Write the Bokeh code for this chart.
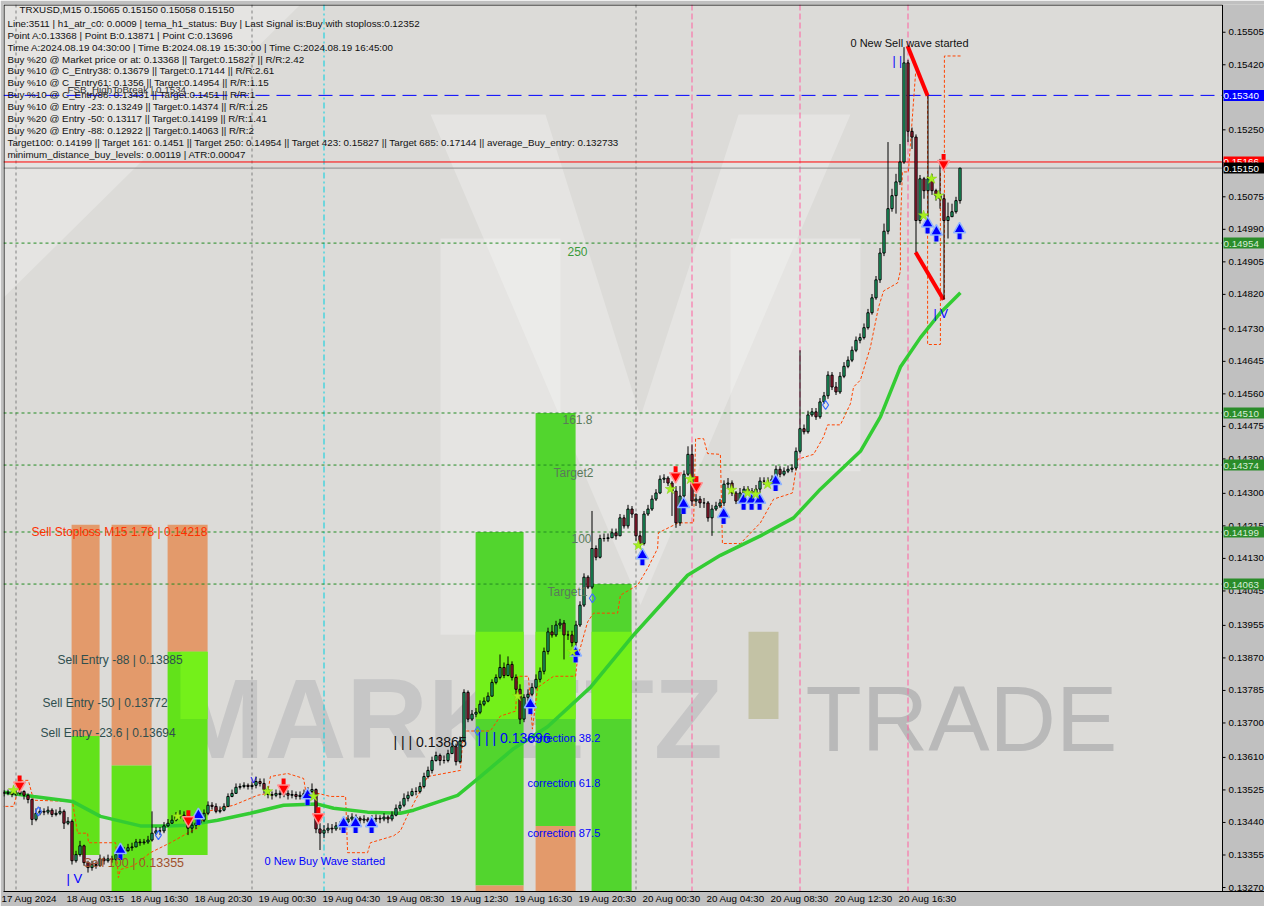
from bokeh.plotting import figure
from bokeh.models import Range1d, FixedTicker, Span, Label
from bokeh.embed import file_html
from bokeh.resources import INLINE

PT = 1e-5  # price units of the arrays below

# ---------------- candles (M15 bars, prices in 1e-5) ----------------
first_open_pts = 13519
close_pts = [
 13516,13519,13513,13516,13521,13511,13500,13448,13464,13469,
 13467,13472,13461,13464,13469,13438,13443,13340,13356,13379,
 13335,13322,13330,13327,13345,13340,13345,13343,13356,13361,
 13366,13374,13376,13389,13387,13389,13394,13412,13418,13418,
 13431,13438,13446,13456,13459,13454,13425,13433,13438,13446,
 13464,13485,13482,13469,13472,13482,13508,13516,13532,13534,
 13537,13534,13537,13547,13542,13526,13513,13511,13516,13513,
 13516,13511,13513,13508,13511,13516,13521,13526,13423,13412,
 13420,13425,13423,13431,13433,13441,13449,13454,13451,13446,
 13449,13443,13449,13451,13449,13454,13449,13459,13477,13485,
 13503,13511,13521,13521,13534,13560,13576,13602,13615,13602,
 13602,13620,13638,13599,13653,13780,13710,13723,13728,13749,
 13757,13770,13806,13819,13845,13824,13853,13819,13788,13710,
 13767,13775,13793,13814,13835,13887,13938,13930,13956,13961,
 13930,13930,13910,13956,14008,14081,14055,14156,14133,14182,
 14182,14184,14197,14189,14236,14215,14259,14246,14189,14169,
 14246,14259,14285,14301,14337,14340,14327,14306,14223,14293,
 14350,14402,14280,14285,14275,14275,14236,14259,14267,14275,
 14324,14327,14301,14280,14301,14311,14306,14301,14311,14332,
 14332,14332,14337,14363,14350,14358,14363,14366,14410,14469,
 14461,14505,14513,14500,14539,14555,14609,14578,14565,14606,
 14632,14648,14674,14700,14707,14733,14772,14811,14858,14928,
 14985,15044,15078,15114,15166,15425,15246,15231,15013,15122,
 15091,15122,15091,15078,15070,15013,15023,15036,15065,15150]
high_pts = [
 13524,13526,13521,13524,13529,13524,13516,13503,13477,13480,
 13477,13482,13477,13474,13480,13474,13454,13448,13366,13392,
 13382,13340,13340,13338,13356,13351,13356,13353,13366,13371,
 13376,13384,13387,13397,13397,13397,13405,13469,13428,13428,
 13441,13449,13459,13467,13472,13469,13459,13443,13449,13459,
 13474,13495,13493,13490,13482,13490,13516,13526,13542,13542,
 13545,13542,13547,13560,13555,13555,13534,13521,13526,13524,
 13526,13524,13524,13521,13521,13526,13532,13542,13529,13438,
 13433,13438,13436,13441,13443,13451,13459,13464,13461,13456,
 13459,13454,13459,13461,13459,13464,13459,13469,13487,13495,
 13516,13521,13529,13532,13545,13570,13586,13612,13625,13620,
 13615,13630,13648,13646,13664,13788,13785,13734,13739,13759,
 13767,13780,13814,13827,13879,13858,13874,13861,13827,13801,
 13775,13788,13804,13827,13845,13897,13949,13956,13967,13972,
 13969,13941,13941,13967,14018,14091,14086,14254,14164,14192,
 14195,14195,14208,14208,14246,14244,14270,14267,14246,14202,
 14254,14270,14295,14311,14347,14350,14345,14332,14319,14319,
 14360,14423,14428,14298,14293,14288,14280,14270,14278,14285,
 14334,14340,14334,14306,14314,14319,14319,14314,14322,14342,
 14342,14342,14347,14373,14371,14368,14373,14376,14420,14674,
 14480,14516,14523,14523,14549,14565,14619,14617,14591,14617,
 14643,14658,14684,14710,14718,14744,14782,14821,14868,14941,
 15005,15218,15096,15135,15213,15466,15433,15256,15238,15132,
 15127,15339,15135,15096,15174,15083,15060,15057,15075,15150]
low_pts = [
 13508,13511,13506,13508,13511,13500,13490,13433,13443,13459,
 13459,13461,13454,13456,13459,13423,13433,13330,13335,13351,
 13327,13309,13314,13319,13325,13330,13335,13335,13340,13351,
 13356,13364,13366,13379,13379,13382,13384,13390,13407,13407,
 13412,13428,13436,13443,13449,13443,13407,13412,13423,13438,
 13441,13459,13474,13464,13464,13469,13480,13506,13516,13526,
 13529,13526,13526,13529,13534,13516,13503,13500,13506,13503,
 13506,13500,13503,13500,13500,13503,13508,13516,13412,13368,
 13399,13412,13412,13418,13420,13431,13438,13443,13441,13436,
 13438,13433,13438,13441,13438,13443,13438,13443,13456,13469,
 13480,13495,13508,13511,13516,13529,13555,13568,13599,13589,
 13594,13597,13620,13589,13594,13651,13702,13705,13715,13723,
 13744,13754,13770,13801,13814,13817,13822,13811,13775,13697,
 13702,13749,13770,13788,13806,13827,13879,13923,13925,13946,
 13866,13917,13899,13899,13951,14003,14050,14050,14125,14130,
 14174,14174,14184,14179,14189,14208,14208,14236,14176,14158,
 14164,14241,14254,14280,14298,14327,14319,14241,14210,14215,
 14288,14345,14267,14267,14262,14262,14226,14189,14254,14262,
 14267,14314,14293,14272,14278,14301,14298,14288,14293,14301,
 14322,14322,14327,14337,14342,14345,14353,14355,14360,14404,
 14454,14456,14500,14492,14495,14534,14547,14570,14557,14560,
 14601,14627,14643,14669,14692,14702,14728,14767,14806,14850,
 14920,14977,15036,15031,15106,15161,15218,15200,14930,15005,
 15070,15005,15080,15065,15044,14806,14966,15023,15031,15057]

# ---------------- indicator lines ----------------
ma_bar = [0, 7.4, 17.1, 24.1, 34.1, 40.9, 45.9, 53.4, 61.6, 69.9, 78.4, 82.4, 90.9, 99.1, 102.4,
          113.4, 119.1, 127.4, 135.9, 146.6, 157.4, 170.9, 179.1, 189.1, 197.4, 204.1, 214.1,
          219.1, 224.1, 229.1, 234.1, 239.1]
ma_pts = [13519, 13508, 13495, 13456, 13431, 13431, 13433, 13446, 13464, 13485, 13488, 13477, 13467,
          13464, 13472, 13511, 13560, 13633, 13690, 13793, 13930, 14086, 14138, 14189, 14236, 14311,
          14410, 14500, 14630, 14707, 14772, 14824]

stop_a_bar = [-0.9, 2.4, 4.1, 6.1, 7.4, 17.1, 18.4, 20.9, 21.1, 27.9, 28.6, 29.1, 32.4, 36.6, 41.6,
              45.9, 48.4, 50.9, 57.4, 63.4, 65.9, 66.6, 70.9, 74.9, 75.4, 81.6, 85.4, 85.9, 90.9, 91.6,
              97.4, 99.1, 100.9, 105.9, 114.1, 114.9, 121.6, 124.1, 127.9, 128.4, 131.1, 132.1, 133.4,
              137.4, 142.9, 143.4, 145.9, 147.4, 153.4, 154.1, 158.4, 160.9, 163.4, 163.6, 168.6, 172.4,
              172.9, 174.9, 175.9, 179.1, 179.6, 184.1, 189.1, 192.4, 197.1, 198.4, 202.4, 204.9, 205.9,
              209.1, 211.6, 212.4, 214.1, 216.6, 218.6, 219.9, 223.4, 224.1, 224.1, 224.6, 226.1, 227.9,
              229.1]
stop_a_pts = [13482, 13482, 13550, 13550, 13498, 13495, 13412, 13412, 13387, 13387, 13296, 13317, 13327,
              13361, 13387, 13412, 13425, 13469, 13485, 13511, 13516, 13560, 13568, 13555, 13524, 13508,
              13508, 13361, 13361, 13387, 13405, 13418, 13459, 13560, 13576, 13679, 13679, 13718, 13731,
              13822, 13822, 13684, 13793, 13822, 13822, 13871, 13964, 13987, 13987, 14034, 14060, 14104,
              14156, 14197, 14223, 14223, 14443, 14443, 14404, 14402, 14169, 14169, 14223, 14285, 14301,
              14389, 14402, 14448, 14479, 14479, 14534, 14578, 14596, 14682, 14785, 14829, 14850, 14881,
              15000, 15140, 15140, 15399, 15399]
stop_b_bar = [230.9, 230.9, 234.1, 234.1]
stop_b_pts = [15339, 14689, 14689, 15140]
stop_c_bar = [235.1, 235.1, 239.6]
stop_c_pts = [14811, 15443, 15443]

wave_bar = [[225.9, 230.9], [227.9, 234.9]]
wave_pts = [[15469, 15339], [14930, 14806]]

# ---------------- levels ----------------
level_prices = [0.14954, 0.14510, 0.14374, 0.14199, 0.14063]
fsb_price = 0.15340
red_price = 0.15166
last_price = 0.15150

# ---------------- zones ----------------
zone_kind = ["sell", "sell", "sell", "buy", "buy", "buy"]
zone_left = [16.9, 26.9, 40.9, 117.9, 132.9, 146.9]
zone_right = [23.9, 36.9, 50.9, 129.9, 142.9, 156.9]
zone_top = [0.14218, 0.14218, 0.14218, 0.14199, 0.14510, 0.14063]
zone_split = [0.13666, 0.13589, 0.13886, 0.13275, 0.13431, 0.13200]
zone_bottom = [0.13355, 0.13200, 0.13355, 0.13200, 0.13200, 0.13200]

# ---------------- signals ----------------
buy_arrow_bar = [29.1, 48.6, 75.9, 84.9, 87.9, 91.9, 131.6, 142.9, 159.6, 169.9, 179.9, 184.9,
                 186.9, 188.9, 192.9, 230.9, 233.1, 238.9]
buy_arrow_pts = [13381, 13472, 13524, 13451, 13451, 13451, 13762, 13897, 14151, 14285, 14259, 14296,
                 14296, 14296, 14345, 15018, 14997, 15003]
sell_arrow_bar = [3.9, 46.1, 69.9, 78.6, 167.9, 173.1, 234.9]
sell_arrow_pts = [13524, 13433, 13516, 13441, 14332, 14306, 15148]
star_bar = [2.4, 43.4, 65.9, 77.4, 128.4, 142.1, 158.6, 166.6, 171.6, 181.9, 185.9, 187.9, 190.9,
            229.9, 231.9, 233.6]
star_pts = [13524, 13456, 13521, 13508, 13770, 13886, 14164, 14311, 14337, 14309, 14301, 14298, 14324,
            15026, 15122, 15078]
hollow_bar = [8.6, 38.6, 118.4, 147.1, 205.4]
hollow_pts = [13469, 13407, 13679, 14026, 14531]

# ---------------- axes ----------------
time_tick_bars = [0, 16, 32, 48, 64, 80, 96, 112, 128, 144, 160, 176, 192, 208, 224]
time_tick_labels = ["17 Aug 2024", "18 Aug 03:15", "18 Aug 16:30", "18 Aug 20:30", "19 Aug 00:30",
                    "19 Aug 04:30", "19 Aug 08:30", "19 Aug 12:30", "19 Aug 16:30", "19 Aug 20:30",
                    "20 Aug 00:30", "20 Aug 04:30", "20 Aug 08:30", "20 Aug 12:30", "20 Aug 16:30"]
price_ticks = [0.15505, 0.15420, 0.15335, 0.15250, 0.15165, 0.15075, 0.14990, 0.14905, 0.14820,
               0.14730, 0.14645, 0.14560, 0.14475, 0.14390, 0.14300, 0.14215, 0.14130, 0.14045,
               0.13955, 0.13870, 0.13785, 0.13700, 0.13610, 0.13525, 0.13440, 0.13355, 0.13270]
day_sep_bars = [3, 62, 158]
cyan_bars = [80]
pink_bars = [172, 199, 226]

info_lines = [
    "Line:3511 | h1_atr_c0: 0.0009 | tema_h1_status: Buy | Last Signal is:Buy with stoploss:0.12352",
    "Point A:0.13368 | Point B:0.13871 | Point C:0.13696",
    "Time A:2024.08.19 04:30:00 | Time B:2024.08.19 15:30:00 | Time C:2024.08.19 16:45:00",
    "Buy %20 @ Market price or at: 0.13368 || Target:0.15827 || R/R:2.42",
    "Buy %10 @ C_Entry38: 0.13679 || Target:0.17144 || R/R:2.61",
    "Buy %10 @ C_Entry61: 0.1356 || Target:0.14954 || R/R:1.15",
    "Buy %10 @ C_Entry88: 0.13431 || Target:0.1451 || R/R:1",
    "Buy %10 @ Entry -23: 0.13249 || Target:0.14374 || R/R:1.25",
    "Buy %20 @ Entry -50: 0.13117 || Target:0.14199 || R/R:1.41",
    "Buy %20 @ Entry -88: 0.12922 || Target:0.14063 || R/R:2",
    "Target100: 0.14199 || Target 161: 0.1451 || Target 250: 0.14954 || Target 423: 0.15827 || Target 685: 0.17144 || average_Buy_entry: 0.132733",
    "minimum_distance_buy_levels: 0.00119 | ATR:0.00047",
]

# ---------------- layout (reference pixel coordinates) ----------------
FL, FT = 3, 4                 # frame left / top
FW, FH = 1261, 887            # frame spans chart + price strip
AXIS_X = 1222                 # x of the price scale line
BAR0_X, BAR_W = 3.5, 4.0      # pixel x of bar 0, pixels per bar
PPX = 1.0 / 38612             # price per pixel (reference)


def px(X):
    return (X - BAR0_X) / BAR_W


def py(Y):
    return 0.15505 - (Y - 32) * PPX


x_start, x_end = px(FL), px(FL + FW)
Y_TOP, Y_BOT = py(4), py(899)
FONT = "Liberation Sans"

p = figure(frame_width=FW, frame_height=FH,
           x_range=Range1d(x_start, x_end), y_range=Range1d(Y_BOT, Y_TOP),
           y_axis_location=None, output_backend="svg", toolbar_location=None,
           min_border_left=FL, min_border_top=FT, min_border_right=0, min_border_bottom=0,
           background_fill_color="#dcdbd8", border_fill_color="#c0c0c0",
           outline_line_color=None)
p.grid.visible = False

# background watermark shapes
shapes = [
    [(3, 4), (300, 4), (3, 300)],
    [(430, 115), (545, 115), (640, 420), (738, 115), (850, 115), (640, 610)],
    [(440, 240), (560, 240), (560, 640), (440, 640)],
    [(730, 240), (860, 240), (860, 475), (730, 475)],
]
r = p.patches(xs=[[px(a) for a, b in s] for s in shapes], ys=[[py(b) for a, b in s] for s in shapes],
              fill_color="white", fill_alpha=0.25, line_color=None)
r.level = "image"
r = p.quad(left=[px(748)], right=[px(778)], top=[py(637)], bottom=[py(725)],
           fill_color="#c3c2a5", line_color=None)
r.level = "underlay"
for X, txt, style, size, col in [(170, "MARKETZ", "bold", "113px", "#c6c6c6"),
                                  (805, "TRADE", "normal", "92px", "#b9b9b9")]:
    lab = Label(x=px(X), y=py(725), text=txt, text_font=FONT,
                text_font_style=style, text_font_size=size, text_color=col,
                text_baseline="alphabetic", text_align="left")
    lab.level = "underlay"
    p.add_layout(lab)

# vertical markers
for b in day_sep_bars:
    s = Span(location=b, dimension="height", line_color="#808080", line_dash="3 3", line_width=1)
    s.level = "underlay"
    p.add_layout(s)
for b in cyan_bars:
    s = Span(location=b, dimension="height", line_color="#00d0e0", line_dash="6 3 2 3", line_width=1)
    s.level = "underlay"
    p.add_layout(s)
for b in pink_bars:
    s = Span(location=b, dimension="height", line_color="#ff60a0", line_dash="6 3", line_width=1)
    s.level = "underlay"
    p.add_layout(s)

# zones
ORANGE, SELL_GREEN, BUY_GREEN, BRIGHT = "#e39a6b", "#62e21a", "#52d52e", "#74f01a"
for k, l, rr, t, sp, bt in zip(zone_kind, zone_left, zone_right, zone_top, zone_split, zone_bottom):
    if k == "sell":
        p.quad(left=[l], right=[rr], top=[t], bottom=[sp], fill_color=ORANGE, line_color=None)
        p.quad(left=[l], right=[rr], top=[sp], bottom=[bt], fill_color=SELL_GREEN, line_color=None)
        g_lo, g_hi = bt, sp
    else:
        p.quad(left=[l], right=[rr], top=[t], bottom=[sp], fill_color=BUY_GREEN, line_color=None)
        p.quad(left=[l], right=[rr], top=[sp], bottom=[bt], fill_color=ORANGE, line_color=None)
        g_lo, g_hi = sp, t
    lo, hi = max(g_lo, py(725)), min(g_hi, py(637))
    le, ri = max(l, px(180)), min(rr, px(725))
    if lo < hi and le < ri:
        p.quad(left=[le], right=[ri], top=[hi], bottom=[lo], fill_color=BRIGHT, line_color=None)

# horizontal levels (end at the price scale)
xl, xr = x_start, px(AXIS_X)
n = len(level_prices)
p.segment(x0=[xl] * n, x1=[xr] * n, y0=level_prices, y1=level_prices,
          line_color="#228b22", line_dash="3 3", line_width=1)
p.segment(x0=[xl], x1=[xr], y0=[fsb_price], y1=[fsb_price], line_color="#0000ff", line_dash="14 7", line_width=1)
p.segment(x0=[xl], x1=[xr], y0=[red_price], y1=[red_price], line_color="#ff0000", line_width=1)
p.segment(x0=[xl], x1=[xr], y0=[last_price], y1=[last_price], line_color="#8a8a8a", line_width=1)

# trailing stop and wave lines
p.multi_line(xs=[stop_a_bar, stop_b_bar, stop_c_bar],
             ys=[[v * PT for v in stop_a_pts], [v * PT for v in stop_b_pts], [v * PT for v in stop_c_pts]],
             line_color="#ff4400", line_dash="3 2", line_width=1)
p.line(ma_bar, [v * PT for v in ma_pts], line_color="#33cc33", line_width=3.5)
p.multi_line(xs=wave_bar, ys=[[v * PT for v in w] for w in wave_pts], line_color="#ff0000", line_width=4)

# candles
opens = [first_open_pts] + close_pts[:-1]
idx = list(range(len(close_pts)))
p.segment(x0=idx, y0=[v * PT for v in high_pts], x1=idx, y1=[v * PT for v in low_pts],
          line_color="black", line_width=1)
up = [i for i in idx if close_pts[i] >= opens[i]]
dn = [i for i in idx if close_pts[i] < opens[i]]
p.vbar(x=up, width=0.55, top=[close_pts[i] * PT for i in up], bottom=[opens[i] * PT for i in up],
       fill_color="#22c07a", line_color="black", line_width=1)
p.vbar(x=dn, width=0.55, top=[opens[i] * PT for i in dn], bottom=[close_pts[i] * PT for i in dn],
       fill_color="#b0203a", line_color="black", line_width=1)

# signal markers
bp = [v * PT for v in buy_arrow_pts]
p.segment(x0=buy_arrow_bar, y0=[v - 7 * PPX for v in bp], x1=buy_arrow_bar, y1=[v - 15 * PPX for v in bp],
          line_color="#8fb4ff", line_width=6, line_alpha=0.6)
p.segment(x0=buy_arrow_bar, y0=[v - 7 * PPX for v in bp], x1=buy_arrow_bar, y1=[v - 15 * PPX for v in bp],
          line_color="#0000ff", line_width=4)
p.scatter(buy_arrow_bar, [v - 5 * PPX for v in bp], marker="triangle", size=12,
          fill_color="#0000ff", line_color="#8fb4ff", line_width=1.5)
sp_ = [v * PT for v in sell_arrow_pts]
p.segment(x0=sell_arrow_bar, y0=[v + 7 * PPX for v in sp_], x1=sell_arrow_bar, y1=[v + 15 * PPX for v in sp_],
          line_color="#ff0000", line_width=4)
p.scatter(sell_arrow_bar, [v + 5 * PPX for v in sp_], marker="inverted_triangle", size=12,
          fill_color="#ff0000", line_color="#ff9090", line_width=1.5)
p.scatter(star_bar, [v * PT for v in star_pts], marker="star", size=11,
          fill_color="#a6f01e", line_color="#80d010", line_width=0.5)
p.scatter(hollow_bar, [v * PT for v in hollow_pts], marker="diamond", size=9,
          fill_color=None, line_color="#3a6cff", line_width=1.2)

# price scale strip (inside the frame so its boxed labels stay visible)
p.quad(left=[px(AXIS_X)], right=[x_end + 5], top=[Y_TOP + 0.001], bottom=[Y_BOT - 0.001],
       fill_color="#c0c0c0", line_color=None)
p.quad(left=[px(FL + 0.5)], right=[px(AXIS_X)], top=[py(4.5)], bottom=[Y_BOT - 0.001],
       fill_color=None, line_color="black", line_width=1)
nt = len(price_ticks)
p.segment(x0=[px(AXIS_X)] * nt, x1=[px(AXIS_X + 3)] * nt, y0=price_ticks, y1=price_ticks,
          line_color="black", line_width=1)


def put(X, Y, text, color="black", size="9.8px", font=FONT, style="normal", align="left", bg=None, yval=None):
    lab = Label(x=px(X), y=py(Y) if yval is None else yval, text=text, text_color=color,
                text_font_size=size, text_font=font, text_font_style=style, text_align=align,
                text_baseline="middle", background_fill_color=bg)
    p.add_layout(lab)


for t in price_ticks:
    put(AXIS_X + 6, None, f"{t:.5f}", "black", yval=t)
for price, bg, fg in [(fsb_price, "#0000ff", "white"), (red_price, "#ff0000", "white"),
                      (last_price, "black", "white")] + [(lv, "#2a8c2a", "#d8ecd8") for lv in level_prices]:
    put(AXIS_X + 1, None, f" {price:.5f} ", fg, bg=bg, yval=price)

# info panel
put(19, 9, "TRXUSD,M15  0.15065 0.15150 0.15058 0.15150", "#111111")
for k, line in enumerate(info_lines):
    put(7, 23 + 12 * k, line, "#111111")
put(67, 90, "FSB_HighToBreak | 0.1534", "#333333")

# chart labels
put(850, 43, "0 New Sell wave started", "#111111", "11px")
put(264, 868, "0 New Buy Wave started", "#0000ff", "11px")
put(31, 536, "Sell Stoploss M15 1.78 | 0.14218", "#ff3000", "12px")
put(57, 665, "Sell Entry -88 | 0.13885", "#2f4f4f", "12px")
put(42, 709, "Sell Entry -50 | 0.13772", "#2f4f4f", "12px")
put(40, 739, "Sell Entry -23.6 | 0.13694", "#2f4f4f", "12px")
put(83, 870, "Sell 100 | 0.13355", "#a0522d", "12.5px")
put(567, 253, "250", "#3a9a3a", "12px")
put(562, 423, "161.8", "#5a7a5a", "12px")
put(553, 477, "Target2", "#5a7a5a", "12px")
put(571, 543, "100", "#5a7a5a", "12px")
put(547, 597, "Target1", "#5a7a5a", "12px")
put(393, 748, "| | | 0.13865", "#111111", "14px")
put(477, 744, "| | | 0.13696", "#0000ff", "14px")
put(527, 744, "correction 38.2", "#0000ff", "11px")
put(527, 790, "correction 61.8", "#0000ff", "11px")
put(527, 840, "correction 87.5", "#0000ff", "11px")
put(66, 886, "| V", "#0000ff", "13px")
put(933, 316, "| V", "#0000ff", "12px")
put(892, 61, "|  |", "#0000ff", "12px")
put(250, 786, "V", "#0000ff", "9px")

# time axis
xticks = [float(b) + len(s) * 4.6 / 2 / BAR_W for b, s in zip(time_tick_bars, time_tick_labels)]
xax = p.xaxis[0]
xax.ticker = FixedTicker(ticks=xticks)
xax.major_label_overrides = {t: s for t, s in zip(xticks, time_tick_labels)}
xax.major_label_text_font = FONT
xax.major_label_text_font_size = "9.8px"
xax.major_label_text_color = "black"
xax.major_tick_line_color = None
xax.major_tick_out = 0
xax.major_tick_in = 0
xax.minor_tick_line_color = None
xax.major_label_standoff = 1
xax.axis_line_color = "black"

open("out.html", "w").write(file_html(p, INLINE))
